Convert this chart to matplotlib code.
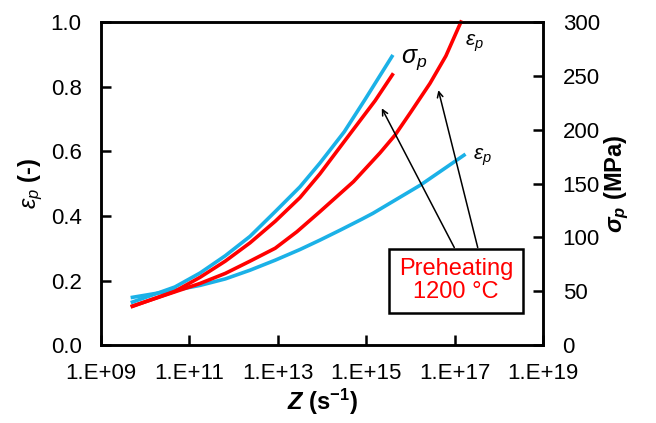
import numpy as np
import matplotlib
matplotlib.use("Agg")
import matplotlib.pyplot as plt
from matplotlib.patches import Rectangle

plt.rcParams['font.family'] = ['Liberation Sans', 'DejaVu Sans']
plt.rcParams['mathtext.fontset'] = 'custom'
plt.rcParams['mathtext.rm'] = 'Liberation Sans'
plt.rcParams['mathtext.it'] = 'Liberation Sans:italic'
plt.rcParams['mathtext.bf'] = 'Liberation Sans:bold'
plt.rcParams['mathtext.bfit'] = 'Liberation Sans:bold:italic'
plt.rcParams['lines.solid_joinstyle'] = 'round'

blue_sig_logz = [9.71, 10.67, 11.24, 11.81, 12.37, 12.94, 13.50, 13.95, 14.50, 14.97, 15.58]
blue_sig_mpa = [40, 54, 67, 83, 101, 124, 147, 169, 198, 228, 268]

red_sig_logz = [9.71, 10.67, 11.24, 11.81, 12.37, 12.94, 13.50, 13.95, 14.50, 15.20, 15.59]
red_sig_mpa = [36, 50, 63, 78, 95, 115, 137, 159, 189, 227, 251]

red_eps_logz = [9.71, 10.67, 11.24, 11.81, 12.37, 12.94, 13.43, 13.95, 14.71, 15.31, 15.65, 16.00, 16.44, 16.80, 17.14]
red_eps = [0.121, 0.165, 0.191, 0.222, 0.260, 0.300, 0.351, 0.413, 0.506, 0.595, 0.650, 0.720, 0.810, 0.895, 1.0]

blue_eps_logz = [9.71, 10.67, 11.24, 11.81, 12.37, 12.94, 13.50, 13.95, 14.41, 14.90, 15.15, 16.22, 17.21]
blue_eps = [0.148, 0.170, 0.185, 0.205, 0.232, 0.263, 0.296, 0.325, 0.356, 0.390, 0.408, 0.495, 0.588]

x_ticks = [1e9, 1e11, 1e13, 1e15, 1e17, 1e19]
x_labels = ['1.E+09', '1.E+11', '1.E+13', '1.E+15', '1.E+17', '1.E+19']
left_ticks = [0.0, 0.2, 0.4, 0.6, 0.8, 1.0]
right_ticks = [0, 50, 100, 150, 200, 250, 300]

BLUE = '#1BB1E7'
RED = '#FF0000'

fig = plt.figure(figsize=(6.56, 4.23), dpi=100)
ax = fig.add_axes([0.154, 0.184, 0.674, 0.764])
ax2 = ax.twinx()

ax.plot(10 ** np.array(blue_eps_logz), blue_eps, color=BLUE, lw=2.6, zorder=3)
ax.plot(10 ** np.array(red_eps_logz), red_eps, color=RED, lw=2.6, zorder=3, clip_on=False)
ax2.plot(10 ** np.array(blue_sig_logz), blue_sig_mpa, color=BLUE, lw=2.6)
ax2.plot(10 ** np.array(red_sig_logz), red_sig_mpa, color=RED, lw=2.6)

ax.set_xscale('log')
ax.set_xlim(1e9, 1e19)
ax.set_ylim(0, 1.0)
ax2.set_ylim(0, 300)
ax.set_xticks(x_ticks)
ax.set_xticklabels(x_labels)
ax.minorticks_off()
ax.set_yticks(left_ticks)
ax.set_yticklabels([f'{v:.1f}' for v in left_ticks])
ax2.set_yticks(right_ticks)
ax2.set_yticklabels([str(v) for v in right_ticks])

for a in (ax, ax2):
    for s in a.spines.values():
        s.set_linewidth(1.8)
    a.tick_params(direction='in', length=7, width=1.8, labelsize=16, pad=14)
ax.tick_params(axis='x', pad=13)
ax.tick_params(axis='x', which='minor', bottom=False)

ax.set_xlabel(r'$\mathbfit{Z}$ (s$^{\mathbf{-1}}$)', fontsize=17, fontweight='bold', labelpad=2)
ax.set_ylabel(r'$\varepsilon_p$ (-)', fontsize=17, fontweight='bold', labelpad=4)
ax2.set_ylabel(r'$\mathbfit{\sigma_p}$ (MPa)', fontsize=17, fontweight='bold', labelpad=2)

ax.text(10 ** 15.78, 0.885, r'$\sigma_p$', fontsize=18, ha='left', va='center')
ax.text(10 ** 17.24, 0.935, r'$\varepsilon_p$', fontsize=15, ha='left', va='center')
ax.text(10 ** 17.42, 0.58, r'$\varepsilon_p$', fontsize=15, ha='left', va='center')

ax.add_patch(Rectangle((0.652, 0.10), 0.302, 0.199, transform=ax.transAxes,
                       facecolor='white', edgecolor='black', lw=1.8, zorder=5))
ax.text(0.803, 0.20, 'Preheating\n1200 °C', transform=ax.transAxes, color=RED,
        fontsize=17, ha='center', va='center', linespacing=1.1, zorder=6)

arrow = dict(arrowstyle='->', color='black', lw=1.1, shrinkA=0, shrinkB=0)
ax.annotate('', xy=(10 ** 15.35, 0.733), xytext=(10 ** 16.99, 0.302), arrowprops=arrow, zorder=4)
ax.annotate('', xy=(10 ** 16.63, 0.789), xytext=(10 ** 17.52, 0.302), arrowprops=arrow, zorder=4)

fig.savefig('out.png', dpi=100)
